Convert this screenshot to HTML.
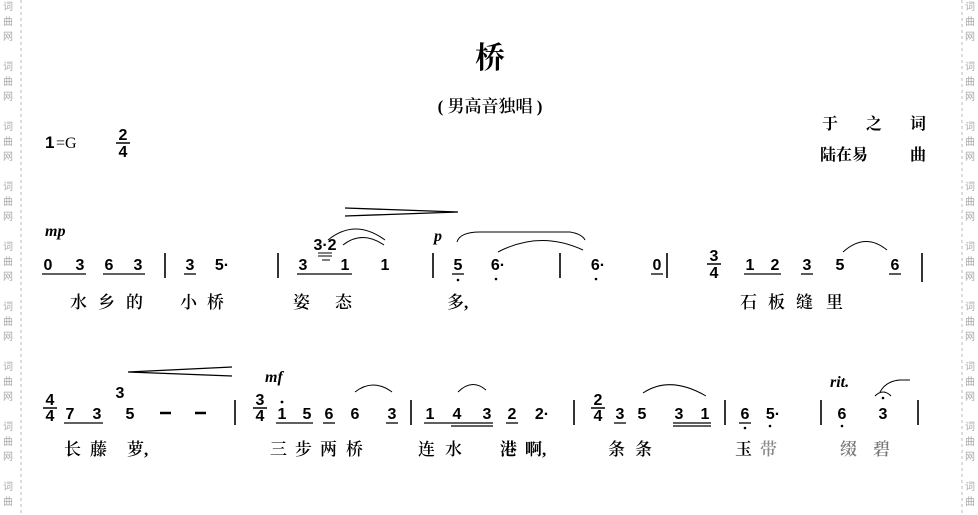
<!DOCTYPE html>
<html><head><meta charset="utf-8"><style>
html,body{margin:0;padding:0;background:#fff;}
svg{display:block;}
.n{font-family:"Liberation Sans",sans-serif;font-weight:bold;font-size:16px;fill:#000;}
.l{font-family:"Liberation Serif","Noto Serif CJK SC",serif;font-size:17px;fill:#000;font-weight:600;}
.w{font-family:"Noto Sans CJK SC",sans-serif;font-size:10px;fill:#aaa;}
.d{font-family:"Liberation Serif",serif;font-weight:bold;font-style:italic;font-size:16px;}
</style></head><body>
<svg width="978" height="515" viewBox="0 0 978 515" xmlns="http://www.w3.org/2000/svg">
<rect width="978" height="515" fill="#fff"/>
<line x1="21" y1="0" x2="21" y2="515" stroke="#bbb" stroke-dasharray="3,3"/>
<line x1="962" y1="0" x2="962" y2="515" stroke="#bbb" stroke-dasharray="3,3"/>
<g class="w" text-anchor="middle">
<text x="8" y="10">词</text><text x="8" y="25">曲</text><text x="8" y="40">网</text>
<text x="8" y="70">词</text><text x="8" y="85">曲</text><text x="8" y="100">网</text>
<text x="8" y="130">词</text><text x="8" y="145">曲</text><text x="8" y="160">网</text>
<text x="8" y="190">词</text><text x="8" y="205">曲</text><text x="8" y="220">网</text>
<text x="8" y="250">词</text><text x="8" y="265">曲</text><text x="8" y="280">网</text>
<text x="8" y="310">词</text><text x="8" y="325">曲</text><text x="8" y="340">网</text>
<text x="8" y="370">词</text><text x="8" y="385">曲</text><text x="8" y="400">网</text>
<text x="8" y="430">词</text><text x="8" y="445">曲</text><text x="8" y="460">网</text>
<text x="8" y="490">词</text><text x="8" y="505">曲</text>
<text x="970" y="10">词</text><text x="970" y="25">曲</text><text x="970" y="40">网</text>
<text x="970" y="70">词</text><text x="970" y="85">曲</text><text x="970" y="100">网</text>
<text x="970" y="130">词</text><text x="970" y="145">曲</text><text x="970" y="160">网</text>
<text x="970" y="190">词</text><text x="970" y="205">曲</text><text x="970" y="220">网</text>
<text x="970" y="250">词</text><text x="970" y="265">曲</text><text x="970" y="280">网</text>
<text x="970" y="310">词</text><text x="970" y="325">曲</text><text x="970" y="340">网</text>
<text x="970" y="370">词</text><text x="970" y="385">曲</text><text x="970" y="400">网</text>
<text x="970" y="430">词</text><text x="970" y="445">曲</text><text x="970" y="460">网</text>
<text x="970" y="490">词</text><text x="970" y="505">曲</text>
</g>
<text x="490" y="68" text-anchor="middle" font-family="Noto Serif CJK SC,serif" font-weight="bold" font-size="30">桥</text>
<text x="490" y="112" text-anchor="middle" class="l" font-size="18" font-weight="normal">( 男高音独唱 )</text>
<text x="45" y="148" font-family="Liberation Sans,sans-serif" font-size="17" font-weight="bold">1</text>
<text x="56" y="148" font-family="Liberation Serif,serif" font-size="16">=G</text>
<g class="n" text-anchor="middle" font-size="14"><text x="123" y="140">2</text><text x="123" y="157">4</text></g>
<line x1="116" y1="143" x2="130" y2="143" stroke="#000" stroke-width="1.5"/>
<g font-family="Noto Serif CJK SC,serif" font-weight="bold" font-size="16">
<text x="822" y="129">于</text><text x="866" y="129">之</text><text x="910" y="129">词</text>
<text x="820" y="160">陆在易</text><text x="910" y="160">曲</text></g>

<text x="45" y="236" class="d">mp</text>
<text x="434" y="241" class="d">p</text>
<path d="M345 208 L458 212 L345 216" fill="none" stroke="#000" stroke-width="1.3"/>
<g class="n" text-anchor="middle">
<text x="48" y="270">0</text><text x="80" y="270">3</text><text x="109" y="270">6</text><text x="138" y="270">3</text>
<text x="190" y="270">3</text><text x="222" y="270">5·</text>
<text x="303" y="270">3</text><text x="345" y="270">1</text><text x="385" y="270">1</text>
<text x="458" y="270">5</text><text x="498" y="270">6·</text>
<text x="598" y="270">6·</text><text x="657" y="270">0</text>
<text x="750" y="270">1</text><text x="775" y="270">2</text><text x="807" y="270">3</text><text x="840" y="270">5</text><text x="895" y="270">6</text>
</g>
<text x="325" y="250" class="n" font-size="9" text-anchor="middle">3·2</text>
<g stroke="#000" stroke-width="1">
<line x1="318" y1="253" x2="332" y2="253"/><line x1="318" y1="256" x2="332" y2="256"/><line x1="322" y1="260" x2="330" y2="260"/>
</g>
<g class="n" text-anchor="middle" font-size="14"><text x="714" y="261">3</text><text x="714" y="278">4</text></g>
<line x1="707" y1="264" x2="721" y2="264" stroke="#000" stroke-width="1.5"/>
<g stroke="#000" stroke-width="1.3">
<line x1="42" y1="274" x2="86" y2="274"/><line x1="103" y1="274" x2="145" y2="274"/>
<line x1="184" y1="274" x2="196" y2="274"/>
<line x1="297" y1="274" x2="352" y2="274"/>
<line x1="452" y1="274" x2="464" y2="274"/>
<line x1="651" y1="274" x2="663" y2="274"/>
<line x1="744" y1="274" x2="781" y2="274"/><line x1="801" y1="274" x2="813" y2="274"/><line x1="889" y1="274" x2="901" y2="274"/>
</g>
<g stroke="#000" stroke-width="1.6">
<line x1="165" y1="253" x2="165" y2="278"/><line x1="278" y1="253" x2="278" y2="278"/>
<line x1="433" y1="253" x2="433" y2="278"/><line x1="560" y1="253" x2="560" y2="278"/>
<line x1="667" y1="253" x2="667" y2="278"/><line x1="922" y1="253" x2="922" y2="282"/>
</g>
<g fill="#000"><circle cx="458" cy="280" r="1.3"/><circle cx="496" cy="279" r="1.3"/><circle cx="596" cy="279" r="1.3"/></g>
<g fill="none" stroke="#000" stroke-width="1">
<path d="M328 240 Q355 218 385 240"/><path d="M343 245 Q362 230 384 245"/>
<path d="M457 242 Q460 232 480 232 L570 232 Q582 234 585 240"/>
<path d="M498 252 Q540 230 583 250"/>
<path d="M843 252 Q865 232 887 250"/>
</g>
<g class="l"><text x="70" y="308">水</text><text x="98" y="308">乡</text><text x="126" y="308">的</text>
<text x="180" y="308">小</text><text x="207" y="308">桥</text><text x="293" y="308">姿</text><text x="335" y="308">态</text>
<text x="447" y="308">多,</text><text x="740" y="308">石</text><text x="768" y="308">板</text><text x="796" y="308">缝</text><text x="826" y="308">里</text></g>

<path d="M232 367 L128 372 L232 376" fill="none" stroke="#000" stroke-width="1.3"/>
<text x="265" y="382" class="d">mf</text>
<text x="830" y="387" class="d" font-size="15">rit.</text>
<g class="n" text-anchor="middle" font-size="14">
<text x="50" y="405">4</text><text x="50" y="421">4</text>
<text x="260" y="405">3</text><text x="260" y="421">4</text>
<text x="598" y="405">2</text><text x="598" y="421">4</text>
</g>
<g stroke="#000" stroke-width="1.5"><line x1="43" y1="408" x2="57" y2="408"/><line x1="253" y1="408" x2="267" y2="408"/><line x1="591" y1="408" x2="605" y2="408"/></g>
<g class="n" text-anchor="middle">
<text x="70" y="419">7</text><text x="97" y="419">3</text><text x="130" y="419">5</text>
<text x="282" y="419">1</text><text x="307" y="419">5</text><text x="329" y="419">6</text><text x="355" y="419">6</text><text x="392" y="419">3</text>
<text x="430" y="419">1</text><text x="457" y="419">4</text><text x="487" y="419">3</text><text x="512" y="419">2</text><text x="542" y="419">2·</text>
<text x="620" y="419">3</text><text x="642" y="419">5</text><text x="679" y="419">3</text><text x="705" y="419">1</text>
<text x="745" y="419">6</text><text x="773" y="419">5·</text>
<text x="842" y="419">6</text><text x="883" y="419">3</text>
</g>
<g stroke="#000" stroke-width="2.5"><line x1="160" y1="413" x2="171" y2="413"/><line x1="195" y1="413" x2="206" y2="413"/></g>
<text x="120" y="398" class="n" font-size="9" text-anchor="middle">3</text>
<circle cx="282" cy="402" r="1.4"/>
<g stroke="#000" stroke-width="1.3">
<line x1="64" y1="423" x2="103" y2="423"/>
<line x1="276" y1="423" x2="313" y2="423"/><line x1="323" y1="423" x2="335" y2="423"/><line x1="386" y1="423" x2="398" y2="423"/>
<line x1="424" y1="423" x2="493" y2="423"/><line x1="451" y1="426" x2="493" y2="426"/><line x1="506" y1="423" x2="518" y2="423"/>
<line x1="614" y1="423" x2="626" y2="423"/><line x1="673" y1="423" x2="711" y2="423"/><line x1="673" y1="426" x2="711" y2="426"/>
<line x1="739" y1="423" x2="751" y2="423"/>
</g>
<g stroke="#000" stroke-width="1.6">
<line x1="235" y1="400" x2="235" y2="425"/><line x1="411" y1="400" x2="411" y2="425"/>
<line x1="574" y1="400" x2="574" y2="425"/><line x1="725" y1="400" x2="725" y2="425"/>
<line x1="821" y1="400" x2="821" y2="425"/><line x1="918" y1="400" x2="918" y2="425"/>
</g>
<g fill="#000"><circle cx="745" cy="428" r="1.3"/><circle cx="770" cy="426" r="1.3"/><circle cx="842" cy="426" r="1.3"/><circle cx="883" cy="398" r="1.3"/></g>
<g fill="none" stroke="#000" stroke-width="1">
<path d="M355 392 Q373 378 392 392"/><path d="M458 392 Q472 378 486 390"/>
<path d="M643 393 Q670 375 706 396"/>
<path d="M875 396 Q883 388 891 396"/>
<path d="M880 392 Q886 381 900 380 L910 380"/>
</g>
<g class="l"><text x="64" y="455">长</text><text x="90" y="455">藤</text><text x="127" y="455">萝,</text>
<text x="270" y="455">三</text><text x="295" y="455">步</text><text x="320" y="455">两</text><text x="346" y="455">桥</text>
<text x="418" y="455">连</text><text x="445" y="455">水</text>
<text x="500" y="455" font-weight="bold">港</text><text x="525" y="455" font-weight="bold">啊,</text>
<text x="608" y="455">条</text><text x="635" y="455">条</text>
<text x="735" y="455">玉</text><text x="760" y="455" fill="#888">带</text>
<text x="840" y="455" fill="#777">缀</text><text x="873" y="455" fill="#777">碧</text></g>
</svg>
</body></html>
